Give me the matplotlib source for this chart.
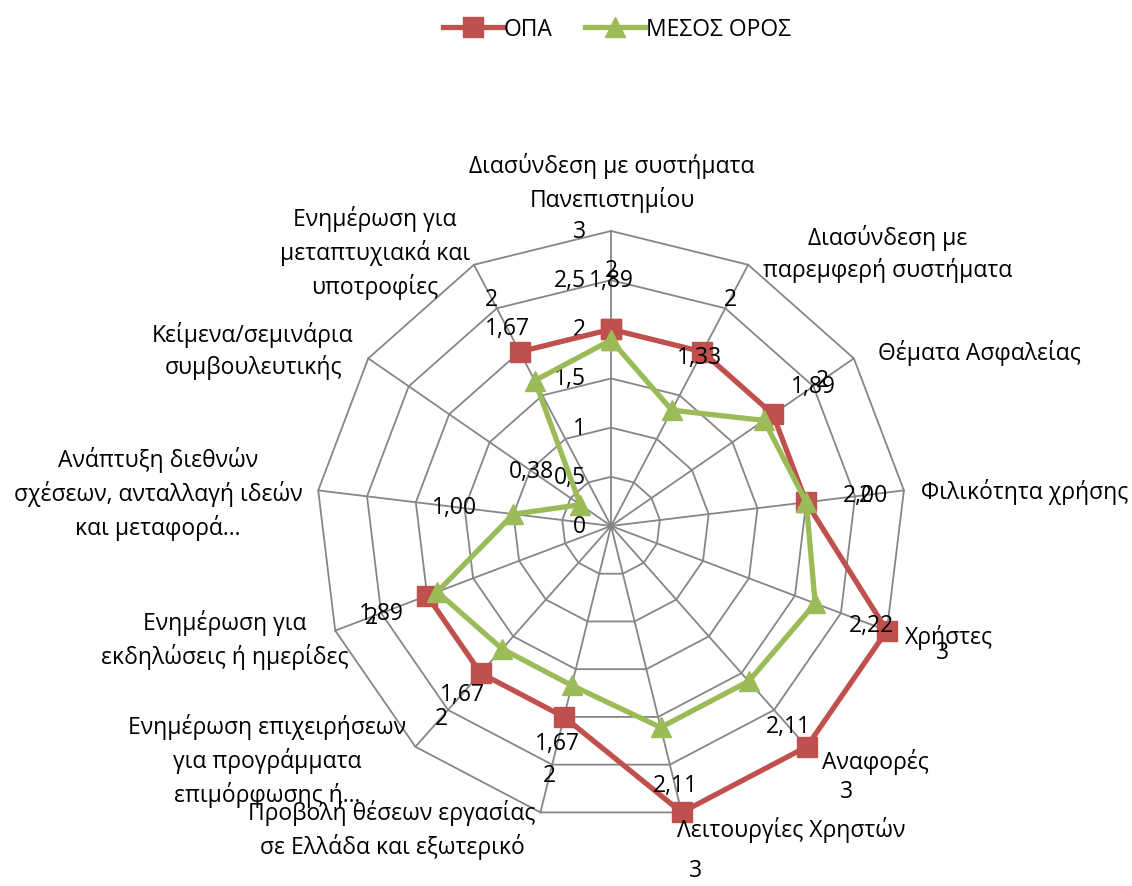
import numpy as np
import matplotlib.pyplot as plt

plt.rcParams['font.family'] = ['Open Sans', 'DejaVu Sans']

categories = [
    'Διασύνδεση με συστήματα\nΠανεπιστημίου',
    'Διασύνδεση με\nπαρεμφερή συστήματα',
    'Θέματα Ασφαλείας',
    'Φιλικότητα χρήσης',
    'Χρήστες',
    'Αναφορές',
    'Λειτουργίες Χρηστών',
    'Προβολή θέσεων εργασίας\nσε Ελλάδα και εξωτερικό',
    'Ενημέρωση επιχειρήσεων\nγια προγράμματα\nεπιμόρφωσης ή…',
    'Ενημέρωση για\nεκδηλώσεις ή ημερίδες',
    'Ανάπτυξη διεθνών\nσχέσεων, ανταλλαγή ιδεών\nκαι μεταφορά…',
    'Κείμενα/σεμινάρια\nσυμβουλευτικής',
    'Ενημέρωση για\nμεταπτυχιακά και\nυποτροφίες',
]
opa = [2, 2, 2, 2, 3, 3, 3, 2, 2, 2, np.nan, np.nan, 2]
mesos = [1.89, 1.33, 1.89, 2.00, 2.22, 2.11, 2.11, 1.67, 1.67, 1.89, 1.00, 0.38, 1.67]
ticks = [0, 0.5, 1, 1.5, 2, 2.5, 3]
tick_labels = ['0', '0,5', '1', '1,5', '2', '2,5', '3']

# where Excel put the category names (pixel centres in the 1132x887 image)
label_pos = [(612, 183), (888, 254), (979, 353), (1025, 492), (949, 638),
             (875, 762), (791, 830), (392, 830), (267, 761), (225, 640),
             (158, 494), (253, 351), (375, 253)]

RED = '#C0504D'
GREEN = '#9BBB59'
GRID = '#868686'
FS = 16.5

W, H = 1132, 887
fig = plt.figure(figsize=(W / 100, H / 100), dpi=100)
ax = fig.add_axes([0.2792, 0.0733, 0.5212, 0.6652], projection='polar')
ax.set_theta_zero_location('N')
ax.set_theta_direction(-1)
ax.set_ylim(0, 3)
ax.grid(False)
ax.spines['polar'].set_visible(False)
ax.patch.set_visible(False)
ax.set_xticks([])
ax.set_yticks([])

n = len(categories)
theta = np.arange(n) * 2 * np.pi / n
theta_c = np.append(theta, theta[0])

# polygon grid
for lev in ticks[1:]:
    ax.plot(theta_c, [lev] * (n + 1), color=GRID, lw=1.3, clip_on=False, zorder=1)
for t in theta:
    ax.plot([t, t], [0, 3], color=GRID, lw=1.3, clip_on=False, zorder=1)

for lev, lab in zip(ticks, tick_labels):
    ax.annotate(lab, (0, lev), xytext=(-18, 0), textcoords='offset points',
                ha='right', va='center', fontsize=FS)

opa_c = np.append(opa, opa[0])
mesos_c = np.append(mesos, mesos[0])
ax.plot(theta_c, opa_c, color=RED, lw=3.8, marker='s', markersize=14,
        clip_on=False, zorder=3, label='ΟΠΑ')
ax.plot(theta_c, mesos_c, color=GREEN, lw=3.8, marker='^', markersize=15,
        clip_on=False, zorder=4, label='ΜΕΣΟΣ ΟΡΟΣ')

# data labels, pushed out along the spoke
off = 43
for t, v in zip(theta, opa):
    if np.isnan(v):
        continue
    ax.annotate(f'{v:g}', (t, v), xytext=(off * np.sin(t), off * np.cos(t)),
                textcoords='offset points', ha='center', va='center',
                fontsize=FS, zorder=5)
for t, v in zip(theta, mesos):
    ax.annotate(f'{v:.2f}'.replace('.', ','), (t, v),
                xytext=(off * np.sin(t), off * np.cos(t)),
                textcoords='offset points', ha='center', va='center',
                fontsize=FS, zorder=5)

for name, (px, py) in zip(categories, label_pos):
    fig.text(px / W, 1 - py / H, name, ha='center', va='center',
             fontsize=FS, linespacing=1.42, multialignment='center')

fig.legend(loc='upper center', bbox_to_anchor=(0.545, 1.003), ncol=2,
           frameon=False, fontsize=FS, handlelength=2.6, columnspacing=1.4,
           handletextpad=0.05)

fig.savefig('out.png', dpi=100)
